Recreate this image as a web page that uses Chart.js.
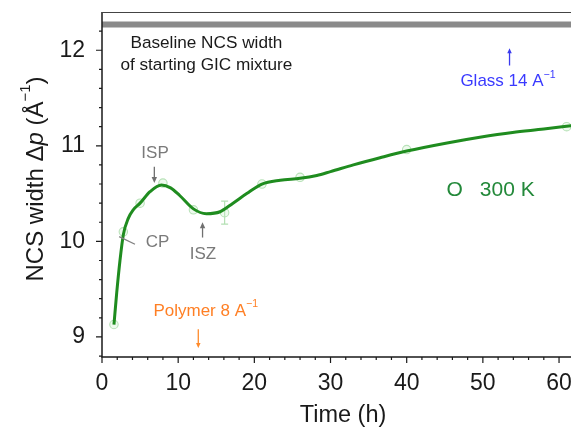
<!DOCTYPE html>
<html><head><meta charset="utf-8">
<script src="https://cdn.jsdelivr.net/npm/chart.js@4/dist/chart.umd.min.js"></script>
<style>html,body{margin:0;padding:0;background:#fff;}</style>
</head><body>
<canvas id="c" width="571" height="431"></canvas>
<script>
// ---- data ----
const curveTime  = [1.57, 1.93, 2.36, 2.8, 3.45, 4.1, 5.0, 6.3, 7.8, 9.0, 10.2, 12.0, 13.7, 15.5, 17.2, 19.0, 21.0, 23.4, 26.0, 28.2, 30.0, 33.0, 36.5, 40.0, 45.3, 49.6, 53.9, 58.0, 61.6];
const curveWidth = [9.13, 9.46, 9.80, 10.07, 10.24, 10.33, 10.40, 10.52, 10.59, 10.56, 10.48, 10.34, 10.29, 10.31, 10.40, 10.50, 10.60, 10.64, 10.66, 10.69, 10.73, 10.80, 10.875, 10.945, 11.03, 11.09, 11.14, 11.175, 11.21];
const pointTime  = [1.57, 2.8, 5.0, 8.0, 12.0, 16.1, 21.0, 26.0, 40.0, 61.0];
const pointWidth = [9.13, 10.10, 10.40, 10.61, 10.33, 10.30, 10.60, 10.67, 10.96, 11.20];
const pointError = [0, 0, 0, 0, 0, 0.12, 0, 0, 0, 0];
const baselineWidth = [12.27];
const xTickLabels = [0, 10, 20, 30, 40, 50, 60];
const yTickLabels = [9, 10, 11, 12];

const FONT = "'Liberation Sans', Arial, Helvetica, sans-serif";
const X_MIN = 0, X_MAX = 61.57, Y_MIN = 8.79, Y_MAX = 12.40;

const isMajor = (v, list) => Math.abs(v - Math.round(v)) < 1e-6 && list.includes(Math.round(v));

function drawRich(ctx, parts, x, y, align, color, size) {
  const widths = parts.map(p => {
    ctx.font = (p.italic ? 'italic ' : '') + (p.sup ? size * 0.62 : size) + 'px ' + FONT;
    return ctx.measureText(p.t).width;
  });
  const total = widths.reduce((a, b) => a + b, 0);
  let cx = align === 'center' ? x - total / 2 : (align === 'right' ? x - total : x);
  ctx.fillStyle = color;
  ctx.textAlign = 'left';
  ctx.textBaseline = 'middle';
  parts.forEach((p, i) => {
    ctx.font = (p.italic ? 'italic ' : '') + (p.sup ? size * 0.62 : size) + 'px ' + FONT;
    ctx.fillText(p.t, cx, p.sup ? y - size * 0.42 : y);
    cx += widths[i];
  });
}

function arrow(ctx, x1, y1, x2, y2, color, w, head) {
  ctx.save();
  ctx.strokeStyle = color; ctx.fillStyle = color; ctx.lineWidth = w;
  const ang = Math.atan2(y2 - y1, x2 - x1);
  ctx.beginPath(); ctx.moveTo(x1, y1);
  ctx.lineTo(x2 - Math.cos(ang) * head * 0.8, y2 - Math.sin(ang) * head * 0.8); ctx.stroke();
  ctx.beginPath(); ctx.moveTo(x2, y2);
  ctx.lineTo(x2 - head * Math.cos(ang) + head * 0.45 * Math.sin(ang), y2 - head * Math.sin(ang) - head * 0.45 * Math.cos(ang));
  ctx.lineTo(x2 - head * Math.cos(ang) - head * 0.45 * Math.sin(ang), y2 - head * Math.sin(ang) + head * 0.45 * Math.cos(ang));
  ctx.closePath(); ctx.fill();
  ctx.restore();
}

const decor = {
  id: 'decor',
  beforeDatasetsDraw(chart) {
    const {ctx, scales: {x, y}} = chart;
    ctx.save();
    ctx.strokeStyle = '#b3e0b3'; ctx.lineWidth = 1.2;
    pointTime.forEach((t, i) => {
      const e = pointError[i];
      if (!e) return;
      const px = x.getPixelForValue(t);
      const y1 = y.getPixelForValue(pointWidth[i] - e), y2 = y.getPixelForValue(pointWidth[i] + e);
      ctx.beginPath();
      ctx.moveTo(px, y1); ctx.lineTo(px, y2);
      ctx.moveTo(px - 3.5, y1); ctx.lineTo(px + 3.5, y1);
      ctx.moveTo(px - 3.5, y2); ctx.lineTo(px + 3.5, y2);
      ctx.stroke();
    });
    ctx.restore();
  },
  afterDraw(chart) {
    const {ctx, chartArea: a, scales: {x, y}} = chart;
    ctx.save();
    ctx.strokeStyle = '#1a1a1a'; ctx.lineWidth = 1.5;
    ctx.beginPath();
    ctx.moveTo(a.left, a.top); ctx.lineTo(a.left, a.bottom); ctx.lineTo(a.right, a.bottom);
    ctx.stroke();
    ctx.strokeStyle = '#444'; ctx.lineWidth = 1;
    ctx.beginPath(); ctx.moveTo(a.left, a.top + 0.5); ctx.lineTo(a.right, a.top + 0.5); ctx.stroke();
    ctx.strokeStyle = '#1a1a1a'; ctx.lineWidth = 1.2;
    ctx.beginPath();
    x.ticks.forEach(tk => {
      const px = x.getPixelForValue(tk.value);
      const len = isMajor(tk.value, xTickLabels) ? 6 : 3;
      ctx.moveTo(px, a.bottom); ctx.lineTo(px, a.bottom + len);
    });
    y.ticks.forEach(tk => {
      if (tk.value > Y_MAX - 0.05) return;
      const py = y.getPixelForValue(tk.value);
      const len = isMajor(tk.value, yTickLabels) ? 6 : 3;
      ctx.moveTo(a.left, py); ctx.lineTo(a.left - len, py);
    });
    ctx.stroke();

    drawRich(ctx, [{t: 'Time (h)'}], 343, 416, 'center', '#1a1a1a', 23.5);
    ctx.save();
    ctx.translate(36, 179); ctx.rotate(-Math.PI / 2);
    drawRich(ctx, [{t: 'NCS width Δ'}, {t: 'p', italic: true}, {t: ' (Å'}, {t: '−1', sup: true}, {t: ')'}], 0, 0, 'center', '#1a1a1a', 24);
    ctx.restore();

    const X = v => x.getPixelForValue(v), Y = v => y.getPixelForValue(v);
    drawRich(ctx, [{t: 'Baseline NCS width'}], X(13.7), Y(12.075), 'center', '#1a1a1a', 17.2);
    drawRich(ctx, [{t: 'of starting GIC mixture'}], X(13.7), Y(11.845), 'center', '#1a1a1a', 17.2);
    drawRich(ctx, [{t: 'ISP'}], X(6.96), Y(10.92), 'center', '#7a7a7a', 17);
    arrow(ctx, X(6.87), Y(10.78), X(6.87), Y(10.61), '#707070', 1.3, 6);
    drawRich(ctx, [{t: 'CP'}], X(5.75), Y(9.985), 'left', '#7a7a7a', 17);
    ctx.strokeStyle = '#808080'; ctx.lineWidth = 1.3;
    ctx.beginPath(); ctx.moveTo(X(2.25), Y(10.05)); ctx.lineTo(X(4.33), Y(9.97)); ctx.stroke();
    drawRich(ctx, [{t: 'ISZ'}], X(13.26), Y(9.86), 'center', '#7a7a7a', 17);
    arrow(ctx, X(13.2), Y(10.04), X(13.2), Y(10.2), '#707070', 1.3, 6);
    drawRich(ctx, [{t: 'Polymer 8 A'}, {t: '−1', sup: true}], X(6.75), Y(9.265), 'left', '#ff7f24', 17);
    arrow(ctx, X(12.64), Y(9.08), X(12.64), Y(8.885), '#ff8a2a', 1.3, 5);
    drawRich(ctx, [{t: 'Glass 14 A'}, {t: '−1', sup: true}], X(47.05), Y(11.67), 'left', '#3a3aff', 17);
    arrow(ctx, X(53.5), Y(11.84), X(53.5), Y(12.02), '#3a3aee', 1.3, 5);
    drawRich(ctx, [{t: 'O'}], X(46.3), Y(10.54), 'center', '#23893a', 21);
    drawRich(ctx, [{t: '300 K'}], X(53.2), Y(10.54), 'center', '#23893a', 21);
    ctx.restore();
  }
};

new Chart(document.getElementById('c'), {
  type: 'scatter',
  data: {
    datasets: [
      {
        data: curveTime.map((t, i) => ({x: t, y: curveWidth[i]})),
        showLine: true, cubicInterpolationMode: 'monotone',
        borderColor: '#1f8c1f', borderWidth: 3, pointRadius: 0, fill: false
      },
      {
        data: pointTime.map((t, i) => ({x: t, y: pointWidth[i]})),
        showLine: false, pointRadius: 4.2, pointBorderWidth: 1.1,
        pointBackgroundColor: 'rgba(200,238,200,0.3)', pointBorderColor: '#b8e2b8'
      },
      {
        data: [{x: X_MIN, y: baselineWidth[0]}, {x: X_MAX, y: baselineWidth[0]}],
        showLine: true, borderColor: '#8a8a8a', borderWidth: 6, pointRadius: 0
      }
    ]
  },
  options: {
    responsive: false, animation: false, devicePixelRatio: 1,
    layout: {autoPadding: false, padding: {top: 12, right: 0, left: 0, bottom: 0}},
    plugins: {legend: {display: false}, tooltip: {enabled: false}},
    scales: {
      x: {
        type: 'linear', min: X_MIN, max: X_MAX,
        grid: {display: false, drawTicks: false, tickLength: 0}, border: {display: false},
        ticks: {
          stepSize: 2, includeBounds: false, autoSkip: false, maxRotation: 0, padding: 13,
          color: '#1a1a1a', font: {family: FONT, size: 23},
          callback: v => isMajor(v, xTickLabels) ? String(Math.round(v)) : ''
        },
        afterFit: s => { s.height = 74; s.paddingLeft = 0; s.paddingRight = 0; s.paddingTop = 0; s.paddingBottom = 0; }
      },
      y: {
        type: 'linear', min: Y_MIN, max: Y_MAX,
        grid: {display: false, drawTicks: false, tickLength: 0}, border: {display: false},
        ticks: {
          stepSize: 0.2, includeBounds: false, autoSkip: false, padding: 17,
          color: '#1a1a1a', font: {family: FONT, size: 23},
          callback: v => isMajor(v, yTickLabels) ? String(Math.round(v)) : ''
        },
        afterFit: s => { s.width = 102; s.paddingLeft = 0; s.paddingRight = 0; s.paddingTop = 0; s.paddingBottom = 0; }
      }
    }
  },
  plugins: [decor]
});
</script>
</body></html>
